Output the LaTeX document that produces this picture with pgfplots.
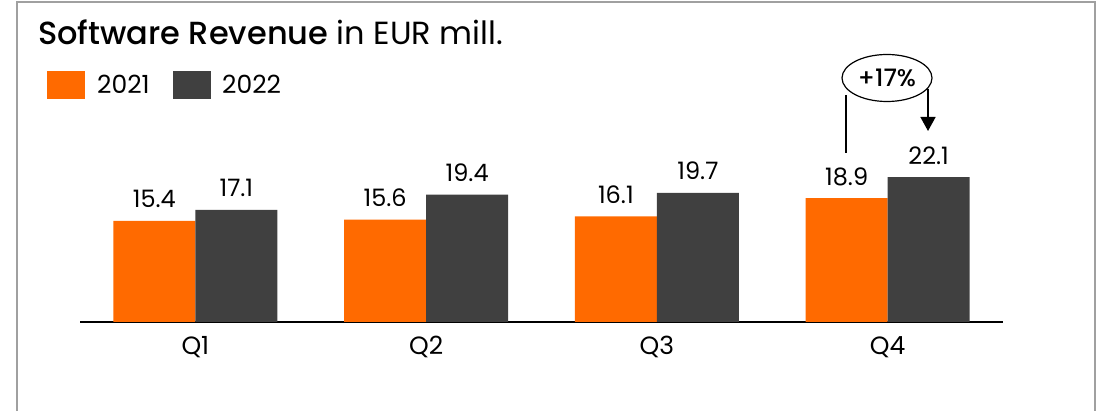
\documentclass[border=0pt]{standalone}
\usepackage{fontspec}
\setmainfont{Poppins}
\newfontfamily\medfont{Poppins Medium}
\usepackage{pgfplots}
\pgfplotsset{compat=1.18}
\usetikzlibrary{arrows.meta}
\definecolor{orng}{RGB}{255,106,0}
\definecolor{darkg}{RGB}{64,64,64}
\definecolor{frameg}{RGB}{160,160,160}

\begin{document}
\begin{tikzpicture}
% canvas 1099pt x 411pt, y measured upward
\path (0pt,0pt) rectangle (1099pt,411pt);
\draw[frameg, line width=2pt] (17pt,0pt) -- (17pt,409pt) -- (1095pt,409pt) -- (1095pt,0pt);

\node[anchor=base west, inner sep=0pt, font=\fontsize{32}{32}\selectfont] at (38pt,366pt)
  {{\medfont Software Revenue} in EUR mill.};

\fill[orng] (47pt,312pt) rectangle (85pt,340pt);
\node[anchor=base west, inner sep=0pt, font=\fontsize{25}{25}\selectfont] at (97pt,317pt) {2021};
\fill[darkg] (173pt,312pt) rectangle (211pt,340pt);
\node[anchor=base west, inner sep=0pt, font=\fontsize{25}{25}\selectfont] at (222pt,317pt) {2022};

\begin{axis}[
    at={(80pt,89pt)}, anchor=south west,
    scale only axis,
    width=923pt, height=196.8pt,
    xmin=-0.5, xmax=3.5,
    ymin=0, ymax=30,
    ybar=0pt, bar width=82pt,
    axis x line*=bottom,
    axis y line=none,
    axis line style={black, line width=1.5pt},
    xtick={0,1,2,3},
    xticklabels={Q1,Q2,Q3,Q4},
    major tick length=0pt,
    xticklabel style={font=\fontsize{25}{25}\selectfont, yshift=-11pt},
    nodes near coords,
    nodes near coords style={font=\fontsize{24}{24}\selectfont, anchor=base, yshift=13pt, inner sep=0pt},
    /pgf/number format/assume math mode=true,
    /pgf/number format/.cd, fixed, precision=1, fixed zerofill,
    /pgfplots/.cd,
    clip=false,
]
\addplot[fill=orng, draw=none] coordinates {(0,15.4) (1,15.6) (2,16.1) (3,18.9)};
\addplot[fill=darkg, draw=none] coordinates {(0,17.1) (1,19.4) (2,19.7) (3,22.1)};
\end{axis}

% growth annotation
\draw[line width=1.5pt] (846pt,258pt) -- (846pt,316pt);
\draw[line width=1.5pt, -{Triangle[length=14pt, width=15pt]}] (928pt,322pt) -- (928pt,280pt);
\draw[line width=1.2pt, fill=white] (887pt,333pt) ellipse [x radius=45pt, y radius=23.5pt];
\node[font=\fontsize{24}{24}\selectfont\medfont, inner sep=0pt] at (887pt,333pt) {+17\%};
\end{tikzpicture}
\end{document}
